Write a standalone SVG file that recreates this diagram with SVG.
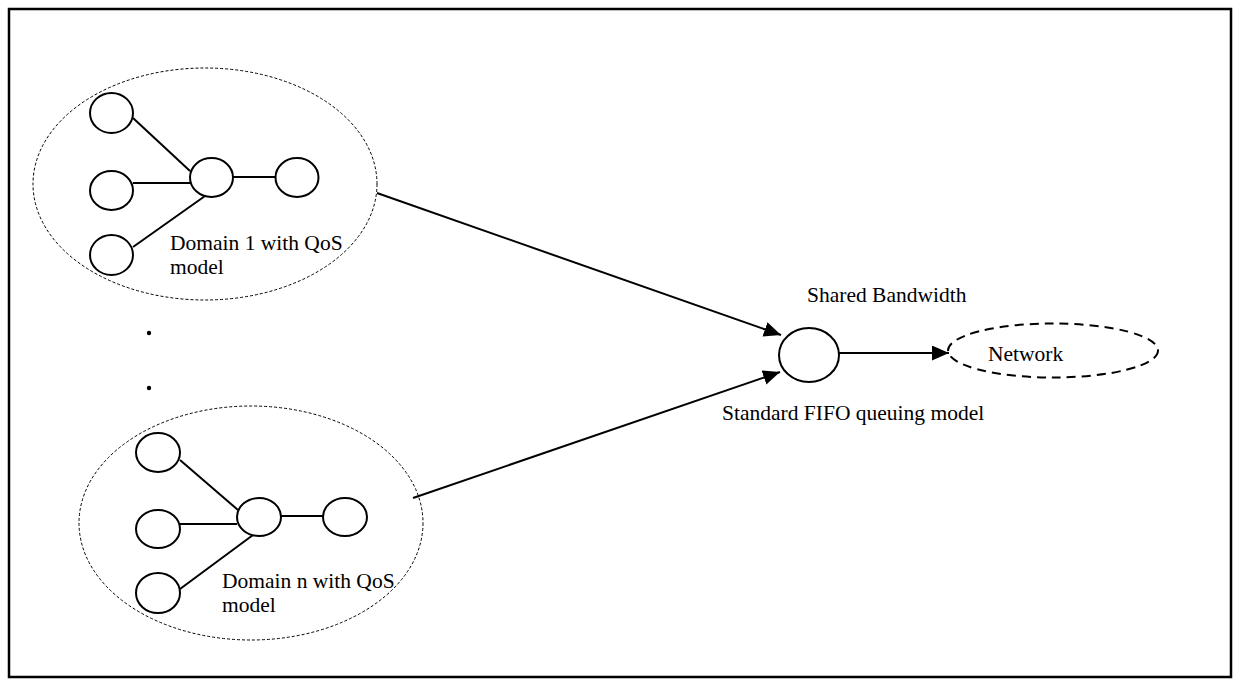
<svg xmlns="http://www.w3.org/2000/svg" width="1234" height="679" viewBox="0 0 1234 679">
<style>
.frame{fill:#fff;stroke:#000;stroke-width:2.5}
.node{fill:#fff;stroke:#000;stroke-width:2}
.domain{fill:none;stroke:#000;stroke-width:1;stroke-dasharray:3 2}
.net{fill:none;stroke:#000;stroke-width:2;stroke-dasharray:9 6}
.edge{stroke:#000;stroke-width:2;fill:none}
.lbl{font-family:"Liberation Serif","Times New Roman",serif;font-size:21.5px;fill:#000}
</style>
<defs>
<marker id="ah" markerUnits="userSpaceOnUse" markerWidth="18" markerHeight="16" refX="17" refY="7.5" orient="auto">
<path d="M0,0 L17,7.5 L0,15 z" fill="#000"/>
</marker>
</defs>
<rect class="frame" x="9" y="9" width="1222" height="668"/>
<g id="connectors">
<line class="edge" x1="133" y1="118" x2="190" y2="171"/>
<line class="edge" x1="133" y1="183" x2="190" y2="183"/>
<line class="edge" x1="133" y1="247" x2="205" y2="196"/>
<line class="edge" x1="233" y1="177" x2="276" y2="177"/>
<line class="edge" x1="180" y1="460" x2="238" y2="510"/>
<line class="edge" x1="180" y1="524" x2="237" y2="524"/>
<line class="edge" x1="180" y1="589" x2="253" y2="535"/>
<line class="edge" x1="281" y1="516" x2="323" y2="516"/>
<line class="edge" x1="377" y1="193" x2="781" y2="335" marker-end="url(#ah)"/>
<line class="edge" x1="413" y1="498" x2="780" y2="372" marker-end="url(#ah)"/>
<line class="edge" x1="839" y1="353" x2="949" y2="353" marker-end="url(#ah)"/>
</g>
<g id="domain1">
<ellipse class="domain" cx="205" cy="184" rx="172" ry="116"/>
<text class="lbl" x="170" y="250">Domain 1 with QoS</text>
<text class="lbl" x="170" y="274">model</text>
</g>
<g id="d1-n1"><ellipse class="node" cx="111.5" cy="113" rx="21.5" ry="20"/></g>
<g id="d1-n2"><ellipse class="node" cx="111.5" cy="190.5" rx="21.5" ry="19.5"/></g>
<g id="d1-n3"><ellipse class="node" cx="111.5" cy="255" rx="21.5" ry="20"/></g>
<g id="d1-hub"><ellipse class="node" cx="211.5" cy="177.5" rx="21.5" ry="19.5"/></g>
<g id="d1-out"><ellipse class="node" cx="297" cy="177.5" rx="21.5" ry="19.5"/></g>
<g id="dots">
<circle cx="149" cy="333" r="2.2" fill="#000"/>
<circle cx="149" cy="388" r="2.2" fill="#000"/>
</g>
<g id="domainn">
<ellipse class="domain" cx="251" cy="523" rx="172" ry="117"/>
<text class="lbl" x="222" y="588">Domain n with QoS</text>
<text class="lbl" x="222" y="612">model</text>
</g>
<g id="dn-n1"><ellipse class="node" cx="158" cy="452.5" rx="22" ry="19.5"/></g>
<g id="dn-n2"><ellipse class="node" cx="158" cy="529" rx="22" ry="19"/></g>
<g id="dn-n3"><ellipse class="node" cx="158" cy="593" rx="22" ry="20"/></g>
<g id="dn-hub"><ellipse class="node" cx="259" cy="517" rx="22" ry="19"/></g>
<g id="dn-out"><ellipse class="node" cx="345" cy="517" rx="22" ry="19"/></g>
<g id="shared">
<ellipse class="node" cx="809" cy="355" rx="30" ry="27"/>
<text class="lbl" x="807" y="302">Shared Bandwidth</text>
<text class="lbl" x="722" y="420">Standard FIFO queuing model</text>
</g>
<g id="network">
<ellipse class="net" cx="1053" cy="350.5" rx="105" ry="27"/>
<text class="lbl" x="988" y="361">Network</text>
</g>
</svg>
